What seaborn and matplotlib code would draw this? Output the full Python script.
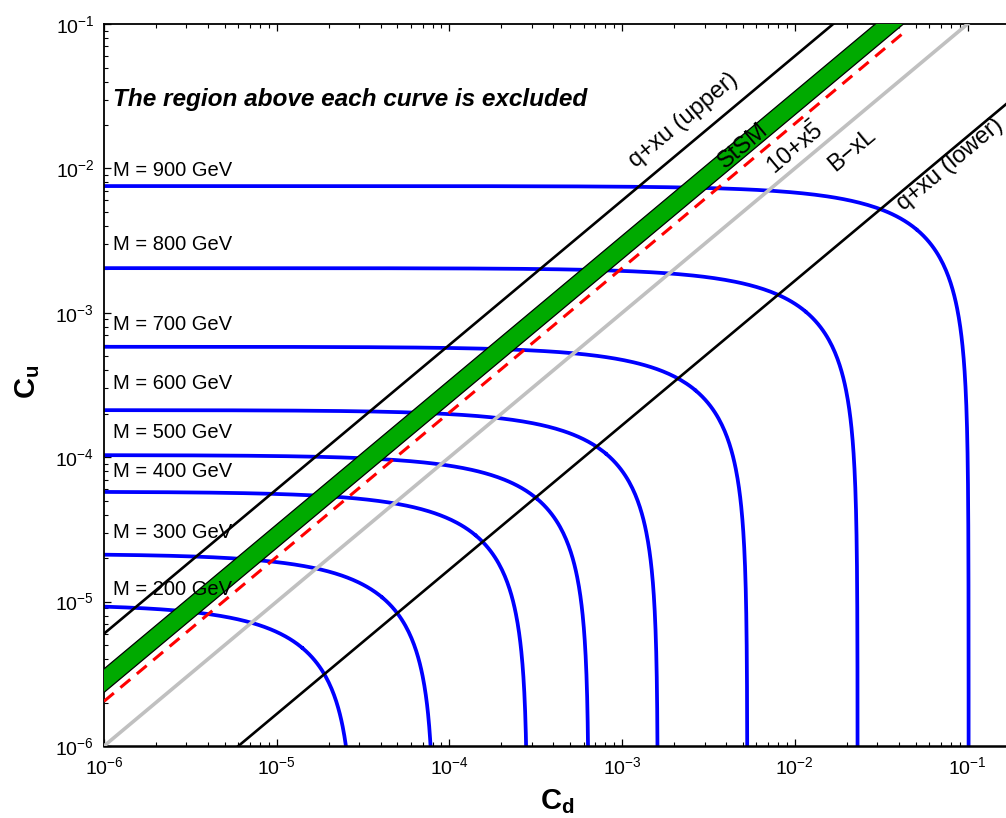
import numpy as np
import pandas as pd
import matplotlib
matplotlib.use("Agg")
import matplotlib.pyplot as plt
import seaborn as sns

# Z' mass contours: intercepts on the C_u and C_d axes
masses = [200, 300, 400, 500, 600, 700, 800, 900]
cu_intercept = [9.57e-6, 2.14e-5, 5.77e-5, 1.035e-4, 2.12e-4, 5.82e-4, 2.04e-3, 7.55e-3]
cd_intercept = [2.81e-5, 8.16e-5, 2.83e-4, 6.41e-4, 1.61e-3, 5.31e-3, 2.31e-2, 1.015e-1]

# Model lines C_u = k * C_d
qxu_upper_k = 6.0
qxu_lower_k = 1.0 / 6.0
stsm_k = [2.35, 3.42]
su5_k = 2.04
su5_cd_range = [1e-6, 4.5e-2]
bxl_k = 1.0

sns.set_theme(style="ticks")
plt.rcParams["font.family"] = ["Liberation Sans", "DejaVu Sans"]
plt.rcParams["mathtext.fontset"] = "custom"
plt.rcParams["mathtext.rm"] = "Liberation Sans"
plt.rcParams["mathtext.it"] = "Liberation Sans:italic"
plt.rcParams["mathtext.bf"] = "Liberation Sans:bold"
plt.rcParams["mathtext.sf"] = "Liberation Sans"
for key in ["text.color", "axes.labelcolor", "xtick.color", "ytick.color",
            "axes.edgecolor"]:
    plt.rcParams[key] = "black"

fig = plt.figure(figsize=(10.06, 8.18), dpi=100)
ax = fig.add_axes([0.10338, 0.0880, 0.9006, 0.8826])
ax.set_xscale("log")
ax.set_yscale("log")
xmin, xmax = 1e-6, 10 ** (-0.7539)
ymin, ymax = 1e-6, 1e-1

# contour curves: C_u / C_u0 + C_d / C_d0 = 1
rows = []
for m, cu0, cd0 in zip(masses, cu_intercept, cd_intercept):
    cd_left = np.logspace(-6, np.log10(cd0) - 0.3, 200)
    cd_right = cd0 * (1 - np.logspace(np.log10(0.5), -9, 400))
    cd = np.concatenate([cd_left, cd_right])
    cu = cu0 * (1 - cd / cd0)
    rows.append(pd.DataFrame({"cd": cd, "cu": cu, "M": m}))
curves = pd.concat(rows, ignore_index=True)
sns.lineplot(data=curves, x="cd", y="cu", units="M", estimator=None, sort=False,
             color="#0000ff", lw=2.7, ax=ax, zorder=2)

cd_full = np.logspace(-6.5, 0.5, 50)
band = pd.DataFrame({"cd": cd_full,
                     "lo": stsm_k[0] * cd_full, "hi": stsm_k[1] * cd_full})
ax.fill_between(band["cd"], band["lo"], band["hi"], facecolor="#00aa00",
                edgecolor="black", lw=0.9, zorder=3)

lines = pd.DataFrame({"cd": cd_full,
                      "upper": qxu_upper_k * cd_full,
                      "lower": qxu_lower_k * cd_full,
                      "bxl": bxl_k * cd_full})
sns.lineplot(data=lines, x="cd", y="bxl", color="#c0c0c0", lw=2.6, ax=ax, zorder=3)
sns.lineplot(data=lines, x="cd", y="upper", color="black", lw=1.9, ax=ax, zorder=4)
sns.lineplot(data=lines, x="cd", y="lower", color="black", lw=1.9, ax=ax, zorder=4)

su5_cd = np.array(su5_cd_range)
su5 = pd.DataFrame({"cd": su5_cd, "cu": su5_k * su5_cd})
sns.lineplot(data=su5, x="cd", y="cu", color="#ff0000", lw=2.2, ax=ax, zorder=4,
             dashes=False).lines[-1].set_dashes((4.2, 2.8))

ax.set_xlim(xmin, xmax)
ax.set_ylim(ymin, ymax)

# mass labels
label_logy = [-4.918, -4.524, -4.102, -3.832, -3.486, -3.084, -2.530, -2.011]
for m, ly in zip(masses, label_logy):
    ax.text(1.12e-6, 10 ** ly, f"M = {m} GeV", fontsize=14.5, ha="left",
            va="center", zorder=6)

ax.text(0.01, 0.895, "The region above each curve is excluded", transform=ax.transAxes,
        fontsize=17.6, fontweight="bold", fontstyle="italic", ha="left", va="center")

rot = 40
lab_fs = 17
ax.text(2.28e-3, 0.0216, "q+xu (upper)", rotation=rot, fontsize=lab_fs,
        ha="center", va="center", rotation_mode="anchor")
ax.text(5.01e-3, 0.0143, "StSM", rotation=rot, fontsize=lab_fs,
        ha="center", va="center", rotation_mode="anchor", zorder=6)
ax.text(1.0e-2, 0.0138, r"10+x$\bar{5}$", rotation=rot, fontsize=lab_fs,
        ha="center", va="center", rotation_mode="anchor")
ax.text(2.14e-2, 0.0134, "B\u2212xL", rotation=rot, fontsize=lab_fs,
        ha="center", va="center", rotation_mode="anchor")
ax.text(7.93e-2, 0.01057, "q+xu (lower)", rotation=rot, fontsize=lab_fs,
        ha="center", va="center", rotation_mode="anchor")

ax.set_xlabel(r"$\mathbf{C_d}$", fontsize=21)
ax.set_ylabel(r"$\mathbf{C_u}$", fontsize=21)
ax.xaxis.set_label_coords(0.5, -0.057)
ax.yaxis.set_label_coords(-0.068, 0.505)

ax.tick_params(which="both", direction="in", top=True, right=False,
               labelsize=14, colors="black", pad=7)
ax.tick_params(which="major", length=5, width=0.9)
ax.tick_params(which="minor", length=2.8, width=0.8)
for side in ["left", "bottom", "top", "right"]:
    ax.spines[side].set_linewidth(1.3)
    ax.spines[side].set_color("black")
ax.spines["bottom"].set_linewidth(1.8)
ax.set_facecolor("white")
fig.patch.set_facecolor("white")

fig.savefig("out.png", dpi=100)
